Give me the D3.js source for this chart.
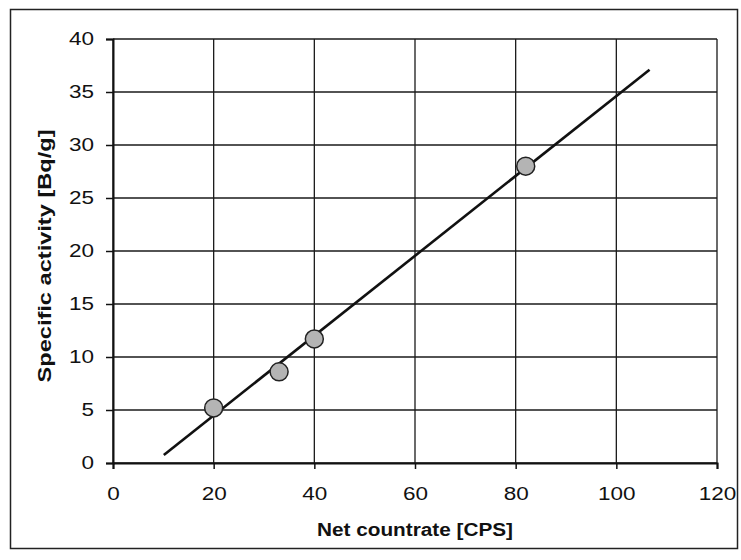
<!DOCTYPE html>
<html lang="en">
<head>
<meta charset="utf-8">
<title>Specific activity vs net countrate</title>
<script src="https://cdn.jsdelivr.net/npm/d3@7"></script>
<style>
  body { margin: 0; background: #fff; }
  svg text { font-family: "Liberation Sans", Arial, sans-serif; fill: #111; }
</style>
</head>
<body>
<script>
// measured points
var countrate = [20, 33, 40, 82];
var activity = [5.2, 8.6, 11.7, 28.0];

// linear trend line, as drawn (end points)
var trendX = [10.1, 106.6];
var trendY = [0.75, 37.1];

var xTicks = [0, 20, 40, 60, 80, 100, 120];
var yTicks = [0, 5, 10, 15, 20, 25, 30, 35, 40];

var W = 741, H = 560;
// the original lettering is wider than Arial, stretch it a bit
var stretch = 1.25;

var svg = d3.select("body").append("svg")
  .attr("width", W)
  .attr("height", H);

// outer frame
svg.append("rect")
  .attr("x", 10.5).attr("y", 9.5)
  .attr("width", 727).attr("height", 539)
  .attr("fill", "none").attr("stroke", "#222").attr("stroke-width", 1.5);

var x = d3.scaleLinear().domain([0, 120]).range([113, 717]);
var y = d3.scaleLinear().domain([0, 40]).range([463, 39]);

// grid lines
svg.append("g").selectAll("line").data(yTicks).join("line")
  .attr("x1", x(0)).attr("x2", x(120))
  .attr("y1", d => y(d)).attr("y2", d => y(d))
  .attr("stroke", "#1a1a1a").attr("stroke-width", 1.3);
svg.append("g").selectAll("line").data(xTicks).join("line")
  .attr("x1", d => x(d)).attr("x2", d => x(d))
  .attr("y1", y(0)).attr("y2", y(40))
  .attr("stroke", "#1a1a1a").attr("stroke-width", 1.3);

// axes (ticks outside)
var xAxis = svg.append("g")
  .attr("transform", "translate(0," + y(0) + ")")
  .call(d3.axisBottom(x).tickValues(xTicks).tickSize(6).tickPadding(18));
var yAxis = svg.append("g")
  .attr("transform", "translate(" + x(0) + ",0)")
  .call(d3.axisLeft(y).tickValues(yTicks).tickSize(7).tickPadding(12));

[xAxis, yAxis].forEach(function(a) {
  a.selectAll("path").attr("stroke", "#111").attr("stroke-width", 2);
  a.selectAll("line").attr("stroke", "#111").attr("stroke-width", 1.5);
  a.selectAll("text")
    .attr("font-size", 18)
    .attr("font-family", "Liberation Sans, Arial, sans-serif")
    .attr("fill", "#111")
    .each(function() {
      var w = this.getComputedTextLength();
      d3.select(this).attr("textLength", w * stretch).attr("lengthAdjust", "spacingAndGlyphs");
    });
});

// trend line
svg.append("line")
  .attr("x1", x(trendX[0])).attr("y1", y(trendY[0]))
  .attr("x2", x(trendX[1])).attr("y2", y(trendY[1]))
  .attr("stroke", "#111").attr("stroke-width", 2.6);

// data points
svg.append("g").selectAll("circle").data(countrate).join("circle")
  .attr("cx", d => x(d))
  .attr("cy", (d, i) => y(activity[i]))
  .attr("r", 9)
  .attr("fill", "#b4b4b4")
  .attr("stroke", "#222")
  .attr("stroke-width", 1.5);

// axis titles
svg.append("text")
  .attr("x", 415).attr("y", 536)
  .attr("text-anchor", "middle")
  .attr("font-size", 18).attr("font-weight", "bold")
  .attr("textLength", 196).attr("lengthAdjust", "spacingAndGlyphs")
  .text("Net countrate [CPS]");

svg.append("text")
  .attr("transform", "translate(51,256) rotate(-90)")
  .attr("text-anchor", "middle")
  .attr("font-size", 19).attr("font-weight", "bold")
  .attr("textLength", 253).attr("lengthAdjust", "spacingAndGlyphs")
  .text("Specific activity [Bq/g]");
</script>
</body>
</html>
